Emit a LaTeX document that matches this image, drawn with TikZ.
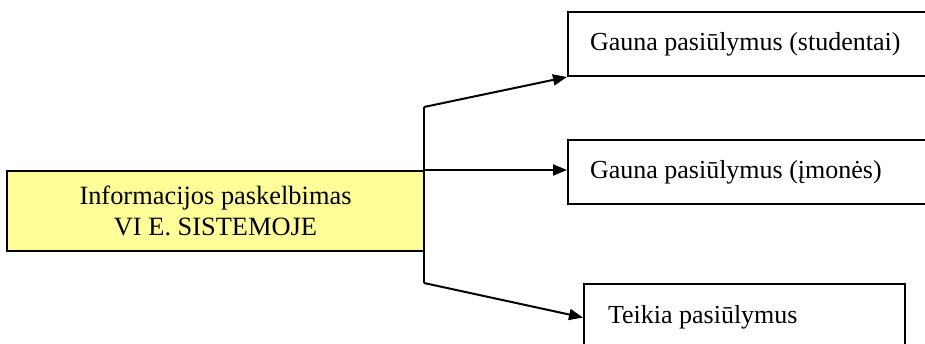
\documentclass[tikz,border=0pt]{standalone}
\usepackage{fontspec}
\setmainfont{Liberation Serif}
\usetikzlibrary{arrows.meta}
\definecolor{paleyellow}{HTML}{FFFF99}
\tikzset{
  line/.style={line width=1pt},
  arr/.style={line, -{Triangle[length=7pt,width=5.5pt]}},
  mainbox/.style={draw, line width=1pt, fill=paleyellow, minimum width=208.5pt, minimum height=40pt, align=center, inner sep=0pt, font=\fontsize{13.2}{15.5}\selectfont},
  outbox/.style={draw, line width=1pt, anchor=north west, inner ysep=0pt, font=\fontsize{13}{15}\selectfont, align=flush left}
}
\begin{document}
\begin{tikzpicture}[x=0.5pt,y=-0.5pt]
\useasboundingbox (0,0) rectangle (925,343);
\clip (0,0) rectangle (925,343);
\node[mainbox] (info) at (215.5,211) {Informacijos paskelbimas\\VI E. SISTEMOJE};
\node[outbox, inner xsep=11pt, text width=162pt, minimum height=32pt] (stud) at (567,11) {Gauna pasiūlymus (studentai)};
\node[outbox, inner xsep=11pt, text width=162pt, minimum height=32pt] (imon) at (567,139) {Gauna pasiūlymus (įmonės)};
\node[outbox, inner xsep=12pt, text width=136.5pt, minimum height=33.5pt] (teik) at (583,283) {Teikia pasiūlymus};
\coordinate (bt) at (424,107);
\coordinate (bb) at (424,283);
\draw[line] (bt) -- (bb);
\draw[arr] (bt) -- (stud.south west);
\draw[arr] (info.north east) -- (info.north east -| imon.west);
\draw[arr] (bb) -- (teik.west);
\end{tikzpicture}
\end{document}
